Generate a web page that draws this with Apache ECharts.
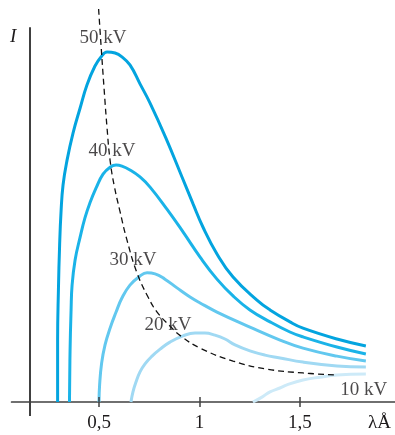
<!DOCTYPE html>
<html>
<head>
<meta charset="utf-8">
<style>
  html, body { margin: 0; padding: 0; background: #ffffff; }
  #chart { width: 395px; height: 435px; }
</style>
<script src="https://cdn.jsdelivr.net/npm/echarts@6/dist/echarts.min.js"></script>
</head>
<body>
<div id="chart"></div>
<script>
// Continuous X-ray spectra: intensity I against wavelength λ (Å) for several tube voltages.

// 50 kV
const kv50Lambda = [0.294, 0.294, 0.298, 0.304, 0.311, 0.321, 0.341, 0.371, 0.406, 0.440, 0.480, 0.510, 0.540, 0.580, 0.614, 0.654, 0.704, 0.754, 0.833, 0.913, 0.968, 1.017, 1.087, 1.167, 1.286, 1.351, 1.450, 1.515, 1.684, 1.828];
const kv50I      = [0, 17.7, 32.0, 44.9, 54.3, 62.0, 69.1, 76.9, 84.0, 90.6, 96.0, 98.6, 100, 99.7, 98.6, 96.3, 90.9, 85.4, 75.4, 64.3, 56.6, 50.0, 42.3, 35.7, 29.1, 26.3, 22.9, 21.1, 18.0, 16.0];

// 40 kV
const kv40Lambda = [0.353, 0.356, 0.361, 0.366, 0.381, 0.406, 0.430, 0.455, 0.485, 0.520, 0.555, 0.585, 0.614, 0.654, 0.704, 0.754, 0.838, 0.918, 1.003, 1.087, 1.167, 1.251, 1.351, 1.450, 1.515, 1.684, 1.828];
const kv40I      = [0, 14.9, 26.3, 33.4, 40.6, 47.1, 52.6, 56.9, 61.1, 65.1, 67.1, 67.7, 67.4, 66.3, 64.3, 61.4, 55.1, 48.6, 41.4, 35.1, 30.3, 26.3, 22.9, 20.0, 18.6, 15.7, 13.7];

// 30 kV
const kv30Lambda = [0.500, 0.503, 0.513, 0.530, 0.555, 0.585, 0.614, 0.654, 0.704, 0.739, 0.779, 0.828, 0.888, 0.953, 1.003, 1.087, 1.251, 1.401, 1.515, 1.684, 1.828];
const kv30I      = [0, 4.9, 11.1, 16.3, 21.1, 25.7, 29.7, 33.4, 36.0, 36.9, 36.6, 35.1, 32.6, 30.0, 28.3, 25.7, 21.4, 17.7, 15.4, 13.1, 11.7];

// 20 kV
const kv20Lambda = [0.659, 0.669, 0.684, 0.704, 0.729, 0.764, 0.804, 0.853, 0.918, 0.978, 1.027, 1.077, 1.127, 1.177, 1.251, 1.326, 1.401, 1.515, 1.684, 1.828];
const kv20I      = [0, 2.9, 5.7, 8.6, 10.9, 13.1, 15.1, 17.1, 18.9, 19.7, 19.7, 19.1, 18.0, 16.3, 14.6, 13.4, 12.6, 11.4, 10.3, 10.0];

// 10 kV
const kv10Lambda = [1.266, 1.311, 1.351, 1.400, 1.435, 1.515, 1.600, 1.684, 1.828];
const kv10I      = [0, 1.4, 2.9, 4.0, 4.9, 6.3, 7.1, 7.7, 8.0];

// Locus of the spectrum maxima (dashed)
const peakLocusLambda = [0.498, 0.510, 0.525, 0.540, 0.555, 0.575, 0.605, 0.639, 0.689, 0.744, 0.789, 0.853, 0.913, 1.003, 1.167, 1.336, 1.515, 1.684];
const peakLocusI      = [112.3, 102.0, 89.7, 78.3, 69.1, 62.0, 54.3, 46.3, 36.9, 30.0, 25.7, 21.7, 18.6, 15.4, 11.7, 9.4, 8.3, 7.7];

// Curve labels and where they sit (λ, I)
const curveLabels  = ['50 kV', '40 kV', '30 kV', '20 kV', '10 kV'];
const labelLambda  = [0.520, 0.565, 0.669, 0.843, 1.818];
const labelI       = [104.0, 71.7, 40.6, 22.0, 3.4];

// Wavelength ticks
const tickValues = [0.5, 1, 1.5];
const tickTexts  = ['0,5', '1', '1,5'];

const curveColors = ['#03a4df', '#1ab3e8', '#62c8ef', '#a0d9f3', '#cdeaf8'];
const serif = '"Liberation Serif", "DejaVu Serif", serif';
const axisColor = '#404040';
const inkColor = '#1d1a1b';

function pairs(xs, ys) { return xs.map((x, i) => [x, ys[i]]); }

const curves = [
  pairs(kv50Lambda, kv50I),
  pairs(kv40Lambda, kv40I),
  pairs(kv30Lambda, kv30I),
  pairs(kv20Lambda, kv20I),
  pairs(kv10Lambda, kv10I)
];

const chart = echarts.init(document.getElementById('chart'), null, { renderer: 'canvas' });

const series = curves.map((data, i) => ({
  type: 'line',
  data: data,
  smooth: 0.45,
  symbol: 'none',
  lineStyle: { color: curveColors[i], width: 3 },
  z: 5 - i,
  silent: true
}));

series.push({
  type: 'line',
  data: pairs(peakLocusLambda, peakLocusI),
  smooth: 0.45,
  symbol: 'none',
  lineStyle: { color: '#111', width: 1.3, type: [6, 4] },
  z: 6,
  silent: true
});

// Curve captions, plus the vertical I axis and the upper halves of the λ ticks
series.push({
  type: 'scatter',
  data: curveLabels.map((t, i) => ({ value: [labelLambda[i], labelI[i]], name: t })),
  symbolSize: 0,
  label: {
    show: true,
    position: 'inside',
    formatter: p => p.name,
    fontFamily: serif,
    fontSize: 19,
    color: inkColor
  },
  z: 8,
  silent: true,
  markLine: {
    silent: true,
    symbol: 'none',
    label: { show: false },
    lineStyle: { color: axisColor, width: 2, type: 'solid' },
    data: [[{ coord: [0.157, -4] }, { coord: [0.157, 107.1] }]].concat(
      tickValues.map(v => [
        { coord: [v, 0], lineStyle: { width: 1.5 } },
        { coord: [v, 1.45] }
      ])
    )
  }
});

chart.setOption({
  animation: false,
  backgroundColor: '#ffffff',
  grid: { left: 11.6, right: 0, top: 5, bottom: 19, containLabel: false, outerBoundsMode: 'none' },
  xAxis: {
    type: 'value',
    min: 0.065,
    max: 1.973,
    splitLine: { show: false },
    axisLine: { onZero: true, lineStyle: { color: axisColor, width: 1.7 } },
    axisTick: { show: true, inside: false, length: 5, customValues: tickValues, lineStyle: { color: axisColor, width: 1.5 } },
    axisLabel: {
      show: true,
      customValues: tickValues,
      formatter: v => tickTexts[tickValues.indexOf(v)] ?? '',
      fontFamily: serif,
      fontSize: 19,
      color: inkColor,
      margin: -2
    }
  },
  yAxis: {
    type: 'value',
    min: -4,
    max: 113.43,
    axisLine: { show: false },
    axisTick: { show: false },
    axisLabel: { show: false },
    splitLine: { show: false }
  },
  graphic: [
    {
      type: 'text',
      left: 10, top: 27,
      style: { text: 'I', font: 'italic 19px ' + serif, fill: inkColor }
    },
    {
      type: 'text',
      left: 368, top: 414,
      style: { text: 'λÅ', font: '19px ' + serif, fill: inkColor }
    }
  ],
  series: series
});
</script>
</body>
</html>
